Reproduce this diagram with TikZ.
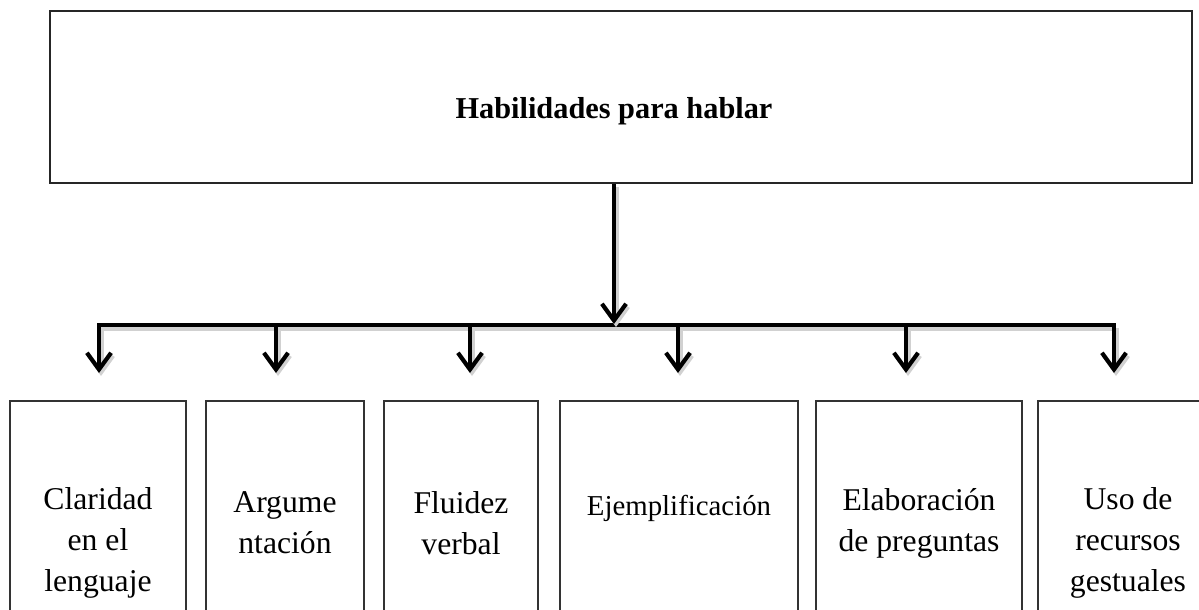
\documentclass[tikz,border=0pt]{standalone}
\usepackage{fontspec}
\setmainfont{Liberation Serif}
\usetikzlibrary{arrows.meta}
\begin{document}
\begin{tikzpicture}[x=0.6pt,y=-0.6pt,
  bigbox/.style={draw=black!85, line width=1.2pt, rectangle, inner sep=0pt},
  itembox/.style={draw=black!80, line width=0.75pt, rectangle, inner sep=2pt, align=center,
     font=\fontsize{19}{24.6}\selectfont},
  thick line/.style={line width=2.5pt, black,
     preaction={draw=black!18, line width=3pt, transform canvas={shift={(1.2pt,-1.8pt)}}}},
  arr/.style={thick line, -{Straight Barb[length=10pt,width=14.5pt,line width=2.5pt]}}
]
\useasboundingbox (0,0) rectangle (1199,609);
\clip (0,0) rectangle (1199,609);

% top box
\node[bigbox, minimum width=685.2pt, minimum height=103.2pt] (top) at (621,97) {};
\node[font=\bfseries\fontsize{18.2}{22}\selectfont, inner sep=0pt] (title) at (614,111) {Habilidades para hablar};

% hub and bar
\coordinate (hub) at (614,324);
\coordinate (barL) at (99,325);
\coordinate (barR) at (1114,325);

% tip coordinates
\coordinate (t1) at (99,373);
\coordinate (t2) at (276,373);
\coordinate (t3) at (470,373);
\coordinate (t4) at (678,373);
\coordinate (t5) at (906,373);
\coordinate (t6) at (1114,373);

% bottom boxes
\node[itembox, minimum width=105.6pt, minimum height=170.4pt] (b1) at (98,543) {Claridad\\en el\\lenguaje};
\node[itembox, minimum width=94.8pt, minimum height=146.4pt] (b2) at (285,523) {Argume\\ntación};
\node[itembox, minimum width=92.4pt, minimum height=146.4pt] (b3) at (461,523) {Fluidez\\verbal};
\node[itembox, minimum width=142.8pt, minimum height=170.4pt, text height=12pt, text depth=45.6pt,
      font=\fontsize{17.3}{22}\selectfont] (b4) at (679,543) {Ejemplificación};
\node[itembox, minimum width=123.6pt, minimum height=146.4pt] (b5) at (919,523) {Elaboración\\de preguntas};
\node[itembox, minimum width=108pt, minimum height=170.4pt] (b6) at (1128,543) {Uso de\\recursos\\gestuales};

% connectors
\draw[thick line, line cap=rect] (barL) -- (barR);
\draw[arr] (top.south -| hub) -- (hub);
\foreach \t in {t1,t2,t3,t4,t5,t6}
  \draw[arr] (\t |- barL) -- (\t);
\end{tikzpicture}
\end{document}
